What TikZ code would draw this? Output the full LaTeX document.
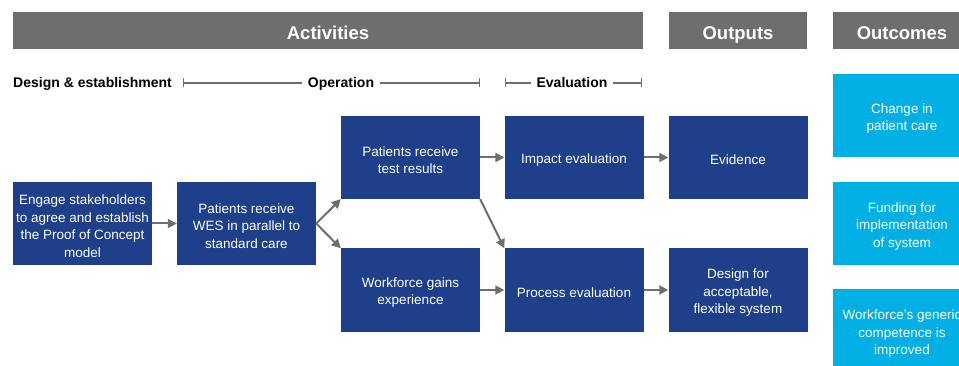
\documentclass[tikz,border=0pt]{standalone}
\usepackage{fontspec}
\setmainfont{Liberation Sans}
\usetikzlibrary{arrows.meta}
\definecolor{hdrgray}{RGB}{110,110,112}
\definecolor{darkblue}{RGB}{30,63,138}
\definecolor{lightblue}{RGB}{0,176,228}
\newcommand{\boxtop}{\rule{0pt}{15pt}}

\begin{document}
\begin{tikzpicture}[x=1pt, y=-1pt,
    header/.style={fill=hdrgray, text=white, minimum height=37pt, inner sep=0pt,
      text height=18pt, text depth=0pt, font=\fontsize{18.5}{22}\selectfont\bfseries},
    box/.style={fill=darkblue, text=white, minimum width=139pt, minimum height=83pt,
      inner sep=0pt, align=center, font=\fontsize{13.5}{17.5}\selectfont},
    outcome/.style={box, fill=lightblue},
    flow/.style={draw=hdrgray, line width=2pt, -{Triangle[length=9pt,width=9pt]}},
    phase/.style={draw=hdrgray, line width=1.3pt, {Bar[width=9pt]}-{Bar[width=9pt]}},
    phaselabel/.style={fill=white, inner xsep=6pt, inner ysep=2pt, text height=10pt,
      text depth=0pt, font=\fontsize{14}{16}\selectfont\bfseries}]
  \clip (0,0) rectangle (959,366);

  % Column headers
  \node[header, minimum width=630pt] (activities) at (328,30.5) {Activities};
  \node[header, minimum width=138pt] (outputs) at (738,30.5) {Outputs};
  \node[header, minimum width=138pt] (outcomes) at (902,30.5) {Outcomes};

  % Phases
  \node[phaselabel, anchor=west, inner xsep=0pt] (setup) at (13,83) {Design \& establishment};
  \coordinate (opstart) at (183,83);
  \coordinate (opend) at (480,83);
  \coordinate (evstart) at (505,83);
  \coordinate (evend) at (642,83);
  \draw[phase] (opstart) -- (opend);
  \draw[phase] (evstart) -- (evend);
  \node[phaselabel] (operation) at (341,83) {Operation};
  \node[phaselabel] (evaluation) at (572,83) {Evaluation};

  % Activities
  \node[box] (engage) at (82.5,223.5) {\boxtop Engage stakeholders\\to agree and establish\\the Proof of Concept\\model};
  \node[box] (wes) at (246.5,223.5) {\boxtop Patients receive\\WES in parallel to\\standard care};
  \node[box] (results) at (410.5,157.5) {\boxtop Patients receive\\test results};
  \node[box] (workforce) at (410.5,290) {\boxtop Workforce gains\\experience};
  \node[box] (impact) at (574,157.5) {\boxtop Impact evaluation};
  \node[box] (process) at (574,290) {\boxtop Process evaluation};

  % Outputs
  \node[box] (evidence) at (738,157.5) {\boxtop Evidence};
  \node[box] (flexible) at (738,290) {\boxtop Design for\\acceptable,\\flexible system};

  % Outcomes
  \node[outcome] (care) at (902,116) {\boxtop Change in\\patient care};
  \node[outcome] (funding) at (902,223.5) {\boxtop Funding for\\implementation\\of system};
  \node[outcome] (competence) at (902,331) {\boxtop Workforce's generic\\competence is\\improved};

  \draw[flow] (engage) -- (wes);
  \draw[flow] (wes.east) -- (results.south west);
  \draw[flow] (wes.east) -- (workforce.north west);
  \draw[flow] (results) -- (impact);
  \draw[flow] (results.south east) -- (process.north west);
  \draw[flow] (workforce) -- (process);
  \draw[flow] (impact) -- (evidence);
  \draw[flow] (process) -- (flexible);
\end{tikzpicture}
\end{document}
